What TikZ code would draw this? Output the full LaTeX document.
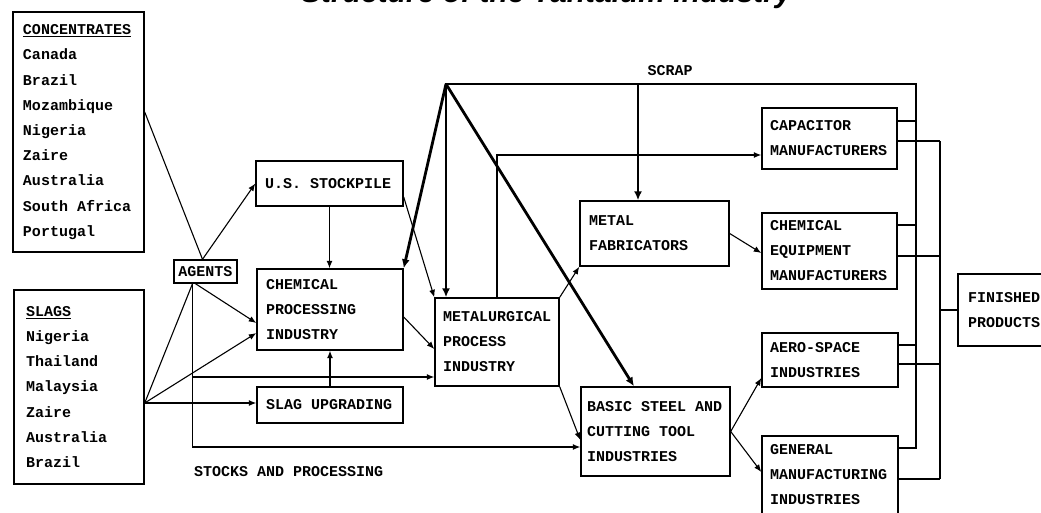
\documentclass[tikz,border=0pt]{standalone}
\usepackage{fontspec}
\setmainfont{Liberation Mono}[WordSpace={1,0,0}]
\newfontfamily\titlefont{Liberation Sans}
\usetikzlibrary{arrows.meta,calc}
\frenchspacing
\begin{document}
\begin{tikzpicture}[x=1pt,y=-1pt,
  box/.style={draw, line width=1.4pt, rectangle, inner ysep=0pt, inner xsep=9pt, align=flush left,
    font=\bfseries\fontsize{15}{25}\selectfont},
  lst/.style={box, font=\bfseries\fontsize{15}{25.2}\selectfont},
  thin/.style={line width=1.1pt},
  arr/.style={thin, -{Latex[length=7.5pt,width=6pt]}},
  heavy/.style={line width=2.8pt},
  bus/.style={heavy, line cap=rect},
  harr/.style={heavy, -{Latex[length=9pt,width=8pt]}},
  lbl/.style={font=\bfseries\fontsize{15}{25}\selectfont, inner sep=0pt}]
\useasboundingbox (0,0) rectangle (1041,512);

% title (cut off at the top edge)
\node[font=\titlefont\bfseries\itshape\fontsize{30}{34}\selectfont, anchor=base east, inner sep=0pt] (title) at (792,2) {Structure of the Tantalum Industry};

% boxes
\node[lst, inner xsep=10pt, text width=111pt, minimum height=240pt] (conc) at (78.5,132)
  {\underline{CONCENTRATES}\\Canada\\Brazil\\Mozambique\\Nigeria\\Zaire\\Australia\\South Africa\\Portugal};
\node[lst, inner xsep=12pt, text width=106pt, minimum height=194pt] (slags) at (79,387)
  {\underline{SLAGS}\\Nigeria\\Thailand\\Malaysia\\Zaire\\Australia\\Brazil};
\node[box, align=center, inner xsep=2pt, minimum width=63pt, minimum height=23pt] (agents) at (205.5,271.5) {AGENTS};
\node[box, text width=129pt, minimum height=45pt] (stock) at (329.5,183.5) {U.S. STOCKPILE};
\node[box, text width=128pt, minimum height=81pt] (chem) at (330,309.5) {CHEMICAL\\PROCESSING\\INDUSTRY};
\node[box, text width=128pt, minimum height=36pt] (slagup) at (330,405) {SLAG UPGRADING};
\node[box, inner xsep=8pt, text width=108pt, minimum height=88pt] (metal) at (497,342) {METALURGICAL\\PROCESS\\INDUSTRY};
\node[box, inner xsep=6pt, text width=137pt, minimum height=89pt] (basic) at (655.5,431.5) {BASIC STEEL AND\\CUTTING TOOL\\INDUSTRIES};
\node[box, text width=131pt, minimum height=65pt] (fab) at (654.5,233.5) {METAL\\FABRICATORS};
\node[box, inner xsep=8pt, text width=119pt, minimum height=61pt] (cap) at (829.5,138.5) {CAPACITOR\\MANUFACTURERS};
\node[box, inner xsep=8pt, text width=119pt, minimum height=76pt] (cheq) at (829.5,251) {CHEMICAL\\EQUIPMENT\\MANUFACTURERS};
\node[box, inner xsep=8pt, text width=120pt, minimum height=54pt] (aero) at (830,360) {AERO-SPACE\\INDUSTRIES};
\node[box, inner xsep=8pt, text width=120pt, minimum height=78pt] (gen) at (830,475) {GENERAL\\MANUFACTURING\\INDUSTRIES};
\node[box, inner xsep=10pt, text width=74pt, minimum height=72pt] (fin) at (1005,310) {FINISHED\\PRODUCTS};

% labels
\node[lbl] (scraplbl) at (670,71) {SCRAP};
\node[lbl, anchor=west] (stocklbl) at (194,472) {STOCKS AND PROCESSING};

% raw material flows
\coordinate (concA) at ([yshift=20pt]conc.east);
\coordinate (agT) at ([xshift=-3pt]agents.north);
\coordinate (agB) at ([xshift=-13pt]agents.south);
\coordinate (agB2) at ([xshift=-10pt]agents.south);
\coordinate (sf) at ([yshift=-16pt]slags.east);
\coordinate (mw) at ([yshift=-35pt]metal.west);
\coordinate (bw) at ([yshift=-15.5pt]basic.west);
\draw[thin] (concA) -- (agT);
\draw[arr] (agT) -- (stock.west);
\draw[thin] (sf) -- (agB);
\draw[arr] (agB2) -- ([yshift=-13.5pt]chem.west);
\draw[arr] (sf) -- ([yshift=-23.5pt]chem.west);
\draw[arr] (sf) -- (sf -| slagup.west);
\draw[arr] (agB) |- (bw);
\draw[arr] (agB |- mw) -- (mw);
\draw[arr] (stock.south) -- (stock.south |- chem.north);
\draw[arr] ([yshift=-13.5pt]stock.east) -- (metal.north west);
\draw[arr] ([yshift=-7.5pt]chem.east) -- ([yshift=-7pt]metal.west);
\draw[arr] (slagup.north) -- (chem.south);
\draw[arr] (metal.north) |- ([yshift=-16.5pt]cap.west);
\draw[arr] (metal.north east) -- (fab.south west);
\draw[arr] (metal.south east) -- ([yshift=-8.5pt]basic.west);
\draw[arr] (fab.east) -- ([yshift=-2pt]cheq.west);
\draw[arr] (basic.east) -- ([yshift=-18pt]aero.west);
\draw[arr] (basic.east) -- ([yshift=3pt]gen.west);

% scrap network
\coordinate (apex) at (446,84);
\coordinate (busbot) at (916,448);
\coordinate (fabT) at ([xshift=-16.5pt]fab.north);
\draw[bus] (apex) -| (busbot);
\draw[bus] ([yshift=17.5pt]cap.east) -- ([yshift=17.5pt]cap.east -| busbot);
\draw[bus] ([yshift=26pt]cheq.east) -- ([yshift=26pt]cheq.east -| busbot);
\draw[bus] ([yshift=15pt]aero.east) -- ([yshift=15pt]aero.east -| busbot);
\draw[bus] ([yshift=27pt]gen.east) -- ([yshift=27pt]gen.east -| busbot);
\draw[harr] (apex) -- (chem.north east);
\draw[harr] (apex) -- (apex |- metal.north);
\draw[harr] (apex) -- ([xshift=-21.5pt]basic.north);
\draw[harr] (fabT |- apex) -- (fabT);

% to finished products
\coordinate (fbus) at (940,310);
\coordinate (capR) at ([yshift=-2.5pt]cap.east);
\coordinate (cheqR) at ([yshift=-5pt]cheq.east);
\coordinate (aeroR) at ([yshift=-4pt]aero.east);
\coordinate (genR) at ([yshift=-4pt]gen.east);
\draw[thin] (capR) -- (capR -| fbus);
\draw[thin] (cheqR) -- (cheqR -| fbus);
\draw[thin] (aeroR) -- (aeroR -| fbus);
\draw[thin] (genR) -- (genR -| fbus);
\draw[thin] (capR -| fbus) -- (genR -| fbus);
\draw[thin] (fbus) -- (fin.west);
\end{tikzpicture}
\end{document}
